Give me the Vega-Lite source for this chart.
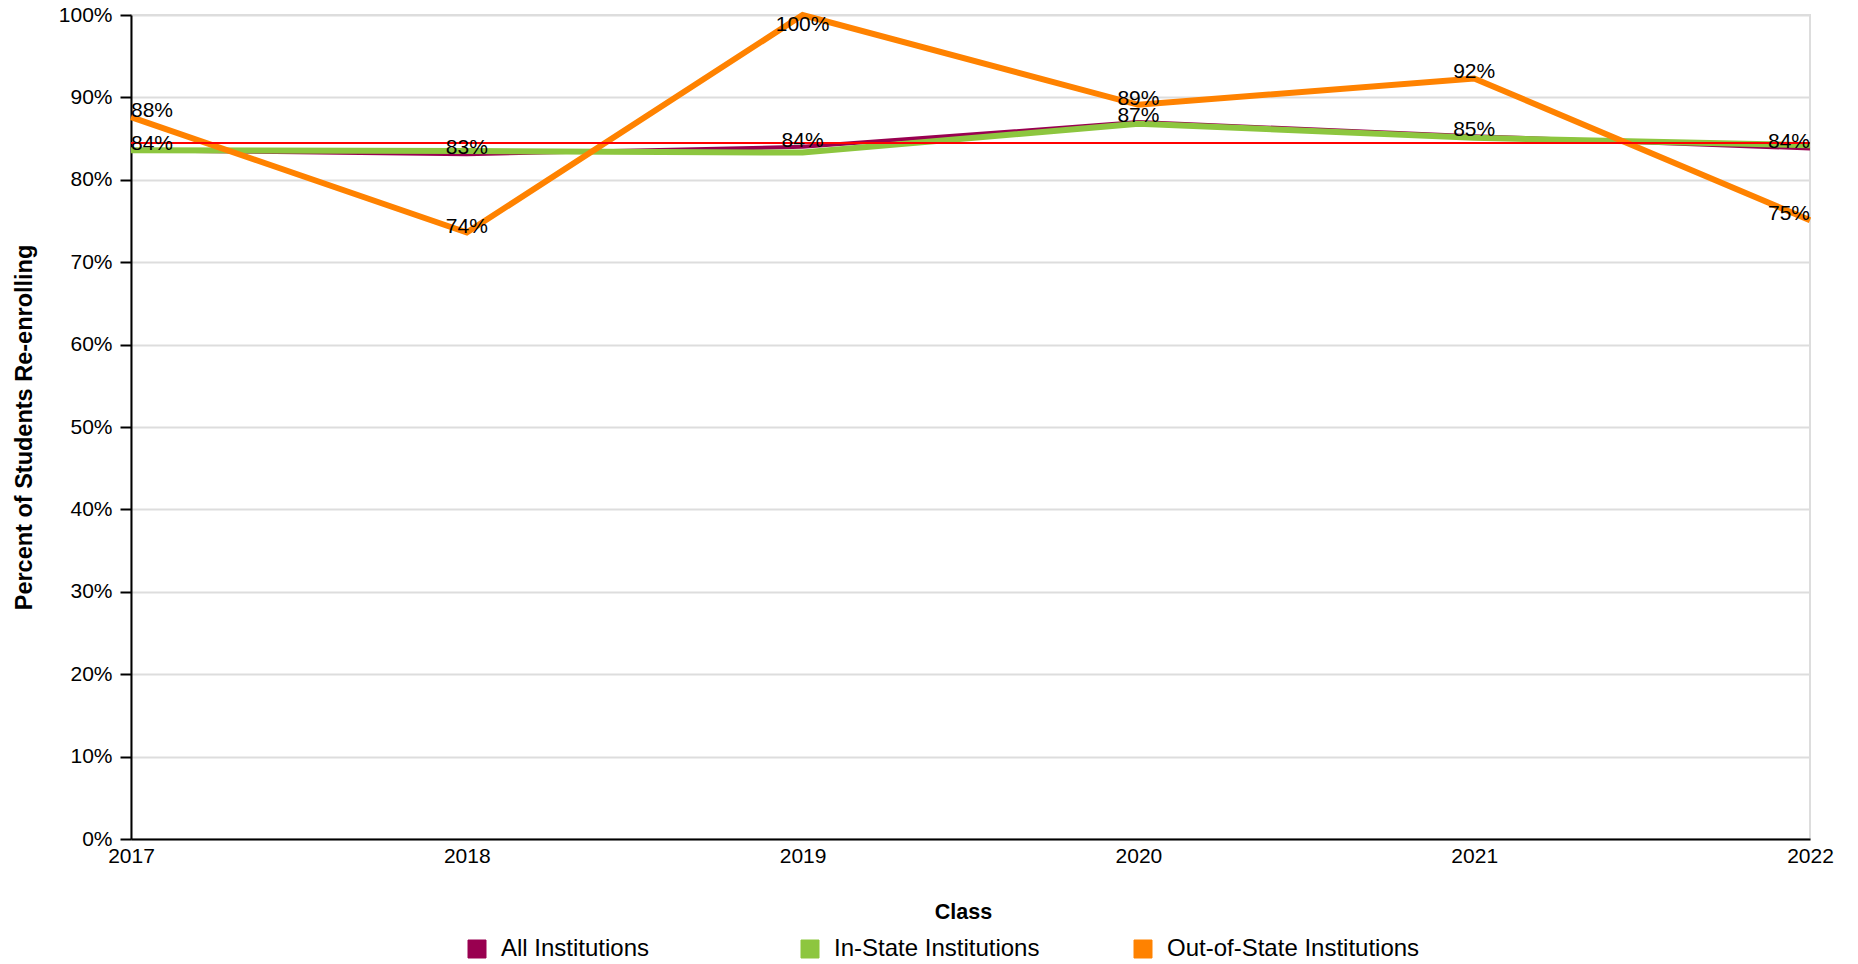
{
  "$schema": "https://vega.github.io/schema/vega-lite/v6.json",
  "width": 1679,
  "height": 824,
  "autosize": "none",
  "padding": {"left": 131, "top": 15, "right": 48, "bottom": 125},
  "background": "white",
  "config": {
    "font": "Liberation Sans",
    "view": {"stroke": "#dddddd", "strokeWidth": 2}
  },
  "data": {
    "values": [
      {"year": 2017, "series": "All Institutions", "value": 0.836},
      {"year": 2018, "series": "All Institutions", "value": 0.831},
      {"year": 2019, "series": "All Institutions", "value": 0.840},
      {"year": 2020, "series": "All Institutions", "value": 0.870},
      {"year": 2021, "series": "All Institutions", "value": 0.853},
      {"year": 2022, "series": "All Institutions", "value": 0.838},
      {"year": 2017, "series": "In-State Institutions", "value": 0.836},
      {"year": 2018, "series": "In-State Institutions", "value": 0.835},
      {"year": 2019, "series": "In-State Institutions", "value": 0.833},
      {"year": 2020, "series": "In-State Institutions", "value": 0.868},
      {"year": 2021, "series": "In-State Institutions", "value": 0.851},
      {"year": 2022, "series": "In-State Institutions", "value": 0.842},
      {"year": 2017, "series": "Out-of-State Institutions", "value": 0.876},
      {"year": 2018, "series": "Out-of-State Institutions", "value": 0.736},
      {"year": 2019, "series": "Out-of-State Institutions", "value": 1.0},
      {"year": 2020, "series": "Out-of-State Institutions", "value": 0.891},
      {"year": 2021, "series": "Out-of-State Institutions", "value": 0.923},
      {"year": 2022, "series": "Out-of-State Institutions", "value": 0.751}
    ]
  },
  "layer": [
    {
      "mark": {"type": "line"},
      "encoding": {
        "x": {
          "field": "year", "type": "ordinal",
          "scale": {"type": "point", "padding": 0},
          "axis": {
            "title": "Class", "labelAngle": 0, "grid": false, "ticks": false,
            "labelPadding": 6, "domainColor": "#000000", "domainWidth": 2,
            "labelFontSize": 21, "labelColor": "#000000",
            "titleFontSize": 21.5, "titleFontWeight": "bold", "titleColor": "#000000",
            "titlePadding": 35, "titleX": 832
          }
        },
        "y": {
          "field": "value", "type": "quantitative",
          "scale": {"domain": [0, 1], "nice": false},
          "axis": {
            "title": "Percent of Students Re-enrolling",
            "format": ".0%",
            "values": [0, 0.1, 0.2, 0.3, 0.4, 0.5, 0.6, 0.7, 0.8, 0.9, 1.0],
            "grid": true, "gridColor": "#dddddd", "gridWidth": 2,
            "domainColor": "#000000", "domainWidth": 2,
            "tickColor": "#000000", "tickWidth": 2, "tickSize": 11,
            "labelFontSize": 21, "labelColor": "#000000", "labelPadding": 8,
            "titleFontSize": 23.5, "titleFontWeight": "bold", "titleColor": "#000000",
            "titlePadding": 22
          }
        },
        "color": {
          "field": "series", "type": "nominal",
          "scale": {
            "domain": ["All Institutions", "In-State Institutions", "Out-of-State Institutions"],
            "range": ["#990050", "#8dc63f", "#ff8200"]
          },
          "legend": {
            "title": null, "orient": "none", "legendX": 334, "legendY": 922,
            "direction": "horizontal", "columns": 3, "gridAlign": "all",
            "columnPadding": 44, "labelFontSize": 24, "labelColor": "#000000",
            "labelOffset": 12, "labelLimit": 400, "padding": 0,
            "symbolType": "square", "symbolSize": 324,
            "symbolStrokeWidth": 1, "symbolStrokeColor": "#aaaaaa",
            "encode": {
              "symbols": {
                "update": {
                  "fill": {"scale": "color", "field": "value"},
                  "stroke": {"value": "#aaaaaa"},
                  "strokeWidth": {"value": 1},
                  "opacity": {"value": 1}
                }
              }
            }
          }
        },
        "strokeWidth": {
          "condition": {"test": "datum.series === 'All Institutions'", "value": 4},
          "value": 6
        }
      }
    },
    {
      "transform": [
        {"filter": "datum.series === 'All Institutions'"},
        {"aggregate": [{"op": "mean", "field": "value", "as": "avg"}]}
      ],
      "mark": {"type": "rule", "color": "#ff0000", "strokeWidth": 2},
      "encoding": {"y": {"field": "avg", "type": "quantitative"}}
    },
    {
      "transform": [
        {"filter": "datum.series !== 'In-State Institutions' && datum.year === 2017"}
      ],
      "mark": {"type": "text", "align": "left", "baseline": "alphabetic", "fontSize": 21, "color": "#000000"},
      "encoding": {
        "x": {"field": "year", "type": "ordinal"},
        "y": {"field": "value", "type": "quantitative"},
        "text": {"field": "value", "type": "quantitative", "format": ".0%"}
      }
    },
    {
      "transform": [
        {"filter": "datum.series !== 'In-State Institutions' && datum.year > 2017 && datum.year < 2022 && datum.value < 0.99"}
      ],
      "mark": {"type": "text", "align": "center", "baseline": "alphabetic", "fontSize": 21, "color": "#000000"},
      "encoding": {
        "x": {"field": "year", "type": "ordinal"},
        "y": {"field": "value", "type": "quantitative"},
        "text": {"field": "value", "type": "quantitative", "format": ".0%"}
      }
    },
    {
      "transform": [
        {"filter": "datum.series !== 'In-State Institutions' && datum.value >= 0.99"}
      ],
      "mark": {"type": "text", "align": "center", "baseline": "top", "dy": -1, "fontSize": 21, "color": "#000000"},
      "encoding": {
        "x": {"field": "year", "type": "ordinal"},
        "y": {"field": "value", "type": "quantitative"},
        "text": {"field": "value", "type": "quantitative", "format": ".0%"}
      }
    },
    {
      "transform": [
        {"filter": "datum.series !== 'In-State Institutions' && datum.year === 2022"}
      ],
      "mark": {"type": "text", "align": "right", "baseline": "alphabetic", "fontSize": 21, "color": "#000000"},
      "encoding": {
        "x": {"field": "year", "type": "ordinal"},
        "y": {"field": "value", "type": "quantitative"},
        "text": {"field": "value", "type": "quantitative", "format": ".0%"}
      }
    }
  ]
}
